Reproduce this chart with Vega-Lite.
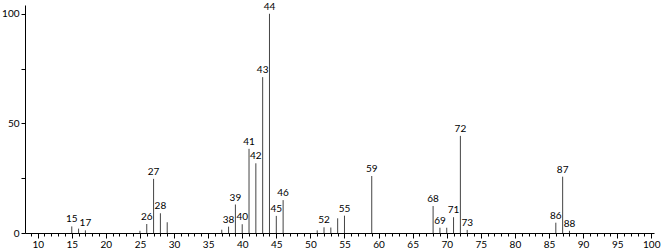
{
  "$schema": "https://vega.github.io/schema/vega-lite/v6.json",
  "autosize": {"type": "none"},
  "padding": {"left": 25, "top": 5, "right": 13, "bottom": 16},
  "width": 629,
  "height": 228,
  "background": "white",
  "config": {
    "view": {"stroke": null},
    "axis": {"labelFont": "Lato", "labelFontSize": 10, "labelColor": "#000", "domainColor": "#000", "tickColor": "#000", "grid": false, "title": null}
  },
  "data": {"values": [
    {"mz": 15, "i": 3, "lab": "15"},
    {"mz": 16, "i": 2, "lab": ""},
    {"mz": 17, "i": 1.2, "lab": "17"},
    {"mz": 25, "i": 1, "lab": ""},
    {"mz": 26, "i": 4.1, "lab": "26"},
    {"mz": 27, "i": 24.7, "lab": "27"},
    {"mz": 28, "i": 9, "lab": "28"},
    {"mz": 29, "i": 4.9, "lab": ""},
    {"mz": 37, "i": 1.5, "lab": ""},
    {"mz": 38, "i": 2.9, "lab": "38"},
    {"mz": 39, "i": 13, "lab": "39"},
    {"mz": 40, "i": 4, "lab": "40"},
    {"mz": 41, "i": 38.4, "lab": "41"},
    {"mz": 42, "i": 31.8, "lab": "42"},
    {"mz": 43, "i": 71.1, "lab": "43"},
    {"mz": 44, "i": 100, "lab": "44"},
    {"mz": 45, "i": 7.8, "lab": "45"},
    {"mz": 46, "i": 15, "lab": "46"},
    {"mz": 51, "i": 1.2, "lab": ""},
    {"mz": 52, "i": 2.6, "lab": "52"},
    {"mz": 53, "i": 2.5, "lab": ""},
    {"mz": 54, "i": 6.7, "lab": ""},
    {"mz": 55, "i": 7.9, "lab": "55"},
    {"mz": 59, "i": 26, "lab": "59"},
    {"mz": 68, "i": 12.3, "lab": "68"},
    {"mz": 69, "i": 2.4, "lab": "69"},
    {"mz": 70, "i": 2.4, "lab": ""},
    {"mz": 71, "i": 7.2, "lab": "71"},
    {"mz": 72, "i": 44.3, "lab": "72"},
    {"mz": 73, "i": 1.4, "lab": "73"},
    {"mz": 86, "i": 4.7, "lab": "86"},
    {"mz": 87, "i": 25.7, "lab": "87"},
    {"mz": 88, "i": 1, "lab": "88"}
  ]},
  "encoding": {
    "x": {
      "field": "mz", "type": "quantitative",
      "scale": {"domain": [8.14, 100.4], "nice": false, "zero": false},
      "axis": {
        "values": [9,10,11,12,13,14,15,16,17,18,19,20,21,22,23,24,25,26,27,28,29,30,31,32,33,34,35,36,37,38,39,40,41,42,43,44,45,46,47,48,49,50,51,52,53,54,55,56,57,58,59,60,61,62,63,64,65,66,67,68,69,70,71,72,73,74,75,76,77,78,79,80,81,82,83,84,85,86,87,88,89,90,91,92,93,94,95,96,97,98,99,100],
        "labelExpr": "datum.value % 5 === 0 ? datum.label : ''",
        "tickSize": {"condition": {"test": "datum.value % 5 === 0", "value": 5}, "value": 3},
        "labelPadding": 1,
        "labelFlush": false,
        "labelOverlap": false
      }
    },
    "y": {
      "field": "i", "type": "quantitative",
      "scale": {"domain": [0, 104], "nice": false},
      "axis": {
        "values": [0, 25, 50, 75, 100],
        "labelExpr": "datum.value % 50 === 0 ? datum.label : ''",
        "tickSize": 4,
        "labelPadding": 2
      }
    }
  },
  "layer": [
    {"mark": {"type": "rule", "color": "#444", "strokeWidth": 1}, "encoding": {"y2": {"datum": 0}}},
    {"mark": {"type": "text", "font": "Lato", "fontSize": 10, "baseline": "bottom", "dy": -2, "color": "#000"}, "encoding": {"text": {"field": "lab"}}}
  ]
}
